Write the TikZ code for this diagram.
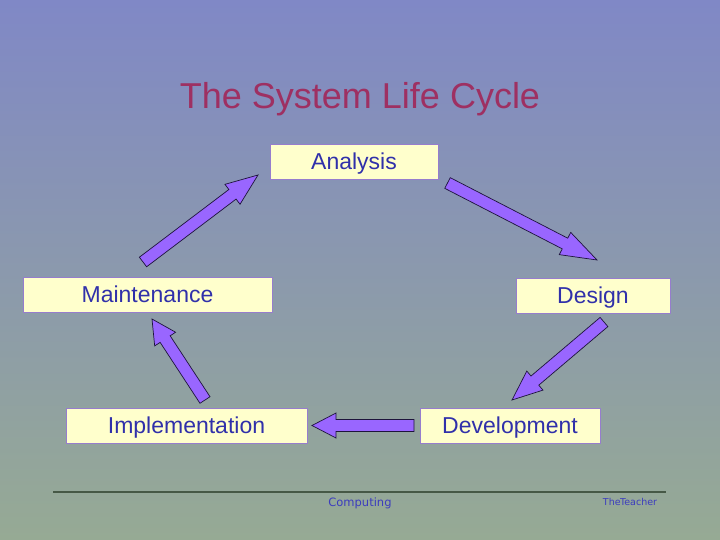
\documentclass[tikz,border=0pt]{standalone}
\usepackage{fontspec}
\setmainfont{Liberation Sans}
\newfontfamily\footfont{DejaVu Sans}
\usetikzlibrary{calc}
\definecolor{bgtop}{RGB}{128,136,198}
\definecolor{bgbot}{RGB}{150,170,148}
\definecolor{titlecol}{RGB}{158,48,98}
\definecolor{boxfill}{RGB}{255,255,204}
\definecolor{boxline}{RGB}{150,125,205}
\definecolor{txtblue}{RGB}{48,48,170}
\definecolor{arrfill}{RGB}{153,102,255}
\definecolor{arrline}{RGB}{30,20,60}
\definecolor{footline}{RGB}{70,88,70}
\definecolor{foottxt}{RGB}{60,60,190}
\tikzset{
  stagebox/.style={draw=boxline, line width=0.8pt, fill=boxfill, text=txtblue,
    font=\fontsize{23}{26}\selectfont, inner sep=0pt, minimum height=35pt,
    text height=16pt, text depth=0pt},
  blockarr/.style={fill=arrfill, draw=arrline, line width=0.7pt, line join=miter},
}
\newcommand\blockarrow[3]{%
  \coordinate (hh) at ($(#2)!#3!(#1)$);
  \filldraw[blockarr] ($(#1)!6pt!90:(#2)$) -- ($(hh)!6pt!90:(#2)$) -- ($(hh)!12.5pt!90:(#2)$) -- (#2)
    -- ($(hh)!12.5pt!-90:(#2)$) -- ($(hh)!6pt!-90:(#2)$) -- ($(#1)!6pt!-90:(#2)$) -- cycle;
}
\begin{document}
\begin{tikzpicture}[x=1pt,y=-1pt]
\useasboundingbox (0,0) rectangle (720,540);
\shade[top color=bgtop, bottom color=bgbot] (0,0) rectangle (720,540);
\node[text=titlecol, font=\fontsize{36}{40}\selectfont, anchor=base] (title) at (360,109) {The System Life Cycle};
\node[stagebox, minimum width=168pt] (ana) at (354,162) {Analysis};
\node[stagebox, minimum width=154pt] (des) at (593,295.5) {Design};
\node[stagebox, minimum width=249pt] (mai) at (147.5,294.5) {Maintenance};
\node[stagebox, minimum width=241pt] (imp) at (186.5,425.5) {Implementation};
\node[stagebox, minimum width=180pt] (dev) at (510,425.5) {Development};
\coordinate (a1t) at (143,262); \coordinate (a1h) at (258,175);
\coordinate (a2t) at (447.5,183); \coordinate (a2h) at (597,260);
\coordinate (a3t) at (604,322); \coordinate (a3h) at (512,400);
\coordinate (a4t) at (414,425.5); \coordinate (a4h) at (312,425.5);
\coordinate (a5t) at (205,400); \coordinate (a5h) at (152,319);
\blockarrow{a1t}{a1h}{32pt}
\blockarrow{a2t}{a2h}{36pt}
\blockarrow{a3t}{a3h}{30pt}
\blockarrow{a4t}{a4h}{24pt}
\blockarrow{a5t}{a5h}{24pt}
\coordinate (fl) at (53,492); \coordinate (fr) at (666,492);
\draw[footline, line width=1.5pt] (fl) -- (fr);
\node[text=foottxt, font=\footfont\fontsize{11.5}{13}\selectfont] (comp) at (360,503) {Computing};
\node[text=foottxt, font=\footfont\fontsize{9.5}{12}\selectfont] (teach) at (630,502) {The\kern-0.5ptTeacher};
\end{tikzpicture}
\end{document}
